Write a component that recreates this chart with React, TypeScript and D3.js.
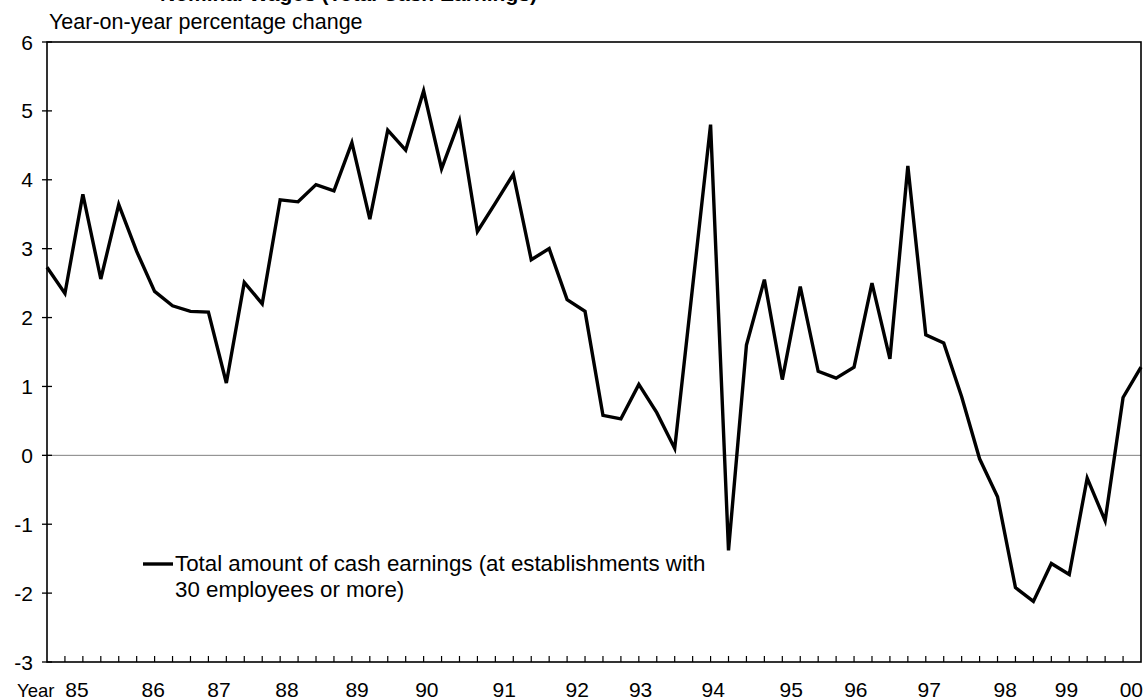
import React from "react";
import * as d3 from "d3";

const earnings: number[] = [
  2.73, 2.35, 3.79, 2.56, 3.64, 2.96, 2.38, 2.17, 2.09, 2.08,
  1.05, 2.51, 2.2, 3.71, 3.68, 3.93, 3.84, 4.54, 3.43, 4.72,
  4.43, 5.29, 4.16, 4.86, 3.25, 3.66, 4.08, 2.84, 3.0, 2.26,
  2.09, 0.58, 0.53, 1.03, 0.62, 0.1, 2.45, 4.8, -1.38, 1.6,
  2.55, 1.1, 2.45, 1.22, 1.12, 1.28, 2.5, 1.4, 4.2, 1.75,
  1.63, 0.85, -0.05, -0.6, -1.92, -2.12, -1.57, -1.73, -0.33, -0.95,
  0.84, 1.28,
];
const yearLabels: string[] = ["85", "86", "87", "88", "89", "90", "91", "92", "93", "94", "95", "96", "97", "98", "99", "00"];
const yearLabelPos: number[] = [1.67, 5.92, 9.59, 13.38, 17.29, 21.18, 25.49, 29.56, 33.1, 37.15, 41.5, 45.1, 49.19, 53.43, 56.84, 60.46];
const yTicks: number[] = [6, 5, 4, 3, 2, 1, 0, -1, -2, -3];

const W = 1148, H = 700;
const M = { left: 47, right: 1141, top: 42, bottom: 662 };
const FONT = "Arial, 'Liberation Sans', sans-serif";

export default function App() {
  const x = d3.scaleLinear().domain([0, earnings.length - 1]).range([M.left, M.right]);
  const y = d3.scaleLinear().domain([-3, 6]).range([M.bottom, M.top]);
  const line = d3.line<number>().x((_, i) => x(i)).y((d) => y(d));
  const xTicks = d3.range(1, earnings.length - 1);

  return (
    <svg width={W} height={H} style={{ position: "absolute", left: 0, top: 0, background: "#fff" }}>
      <text x={160} y={1} fontFamily={FONT} fontSize={21} fontWeight="bold" fill="#000">
        Nominal Wages (Total Cash Earnings)
      </text>
      <text x={49} y={29} fontFamily={FONT} fontSize={21.5} fill="#000">
        Year-on-year percentage change
      </text>
      {/* zero line */}
      <line x1={M.left} x2={M.right} y1={y(0)} y2={y(0)} stroke="#808080" strokeWidth={1} />
      {/* frame */}
      <rect x={M.left} y={M.top} width={M.right - M.left} height={M.bottom - M.top} fill="none" stroke="#000" strokeWidth={1.6} />
      {/* y ticks */}
      {yTicks.map((t) => (
        <g key={t}>
          <line x1={M.left - 5} x2={M.left + 5} y1={y(t)} y2={y(t)} stroke="#000" strokeWidth={1.3} />
          <text x={33} y={y(t)} dy="0.36em" textAnchor="end" fontFamily={FONT} fontSize={21} fill="#000">
            {t}
          </text>
        </g>
      ))}
      {/* x ticks */}
      {xTicks.map((i) => (
        <line key={i} x1={x(i)} x2={x(i)} y1={M.bottom} y2={M.bottom - 6} stroke="#000" strokeWidth={1.2} />
      ))}
      <text x={17} y={697} fontFamily={FONT} fontSize={18.5} fill="#000">Year</text>
      {yearLabels.map((l, k) => (
        <text key={l} x={x(yearLabelPos[k])} y={697} textAnchor="middle" fontFamily={FONT} fontSize={21} fill="#000">
          {l}
        </text>
      ))}
      <path d={line(earnings) || ""} fill="none" stroke="#000" strokeWidth={3.4} strokeLinejoin="miter" />
      {/* legend */}
      <line x1={143} x2={173} y1={564} y2={564} stroke="#000" strokeWidth={3.4} />
      <text x={175} y={571} fontFamily={FONT} fontSize={22.3} fill="#000">
        Total amount of cash earnings (at establishments with
      </text>
      <text x={175} y={597} fontFamily={FONT} fontSize={22.3} fill="#000">
        30 employees or more)
      </text>
    </svg>
  );
}
